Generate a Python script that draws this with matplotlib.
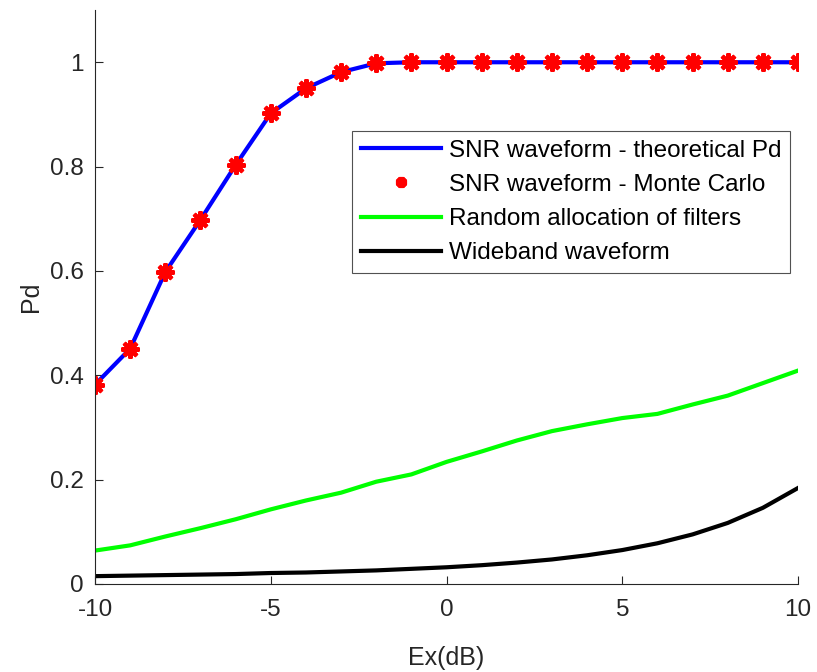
import matplotlib
matplotlib.use("Agg")
import matplotlib.pyplot as plt
import numpy as np

plt.rcParams['font.family'] = ['Liberation Sans', 'DejaVu Sans']
plt.rcParams['axes.unicode_minus'] = False

ex_db = list(range(-10, 11))
pd_theory = [0.382, 0.451, 0.598, 0.698, 0.803, 0.902, 0.950, 0.981, 0.998, 1.0, 1.0,
             1.0, 1.0, 1.0, 1.0, 1.0, 1.0, 1.0, 1.0, 1.0, 1.0]
pd_monte = [0.382, 0.451, 0.598, 0.698, 0.803, 0.902, 0.950, 0.981, 0.999, 1.0, 1.0,
            1.0, 1.0, 1.0, 1.0, 1.0, 1.0, 1.0, 1.0, 1.0, 1.0]
pd_random = [0.064, 0.074, 0.091, 0.107, 0.124, 0.143, 0.160, 0.175, 0.196, 0.210, 0.234,
             0.254, 0.275, 0.293, 0.306, 0.318, 0.326, 0.344, 0.361, 0.385, 0.409]
pd_wide = [0.015, 0.016, 0.017, 0.018, 0.019, 0.021, 0.022, 0.024, 0.026, 0.029, 0.032,
           0.036, 0.041, 0.047, 0.055, 0.065, 0.078, 0.095, 0.117, 0.146, 0.184]

fig = plt.figure(figsize=(8.17, 6.72), dpi=100)
ax = fig.add_axes([0.1163, 0.131, 0.8605, 0.854])

ax.plot(ex_db, pd_theory, color='#0000ff', lw=3, label='SNR waveform - theoretical Pd')
ax.plot(ex_db, pd_monte, linestyle='none', marker=(8, 2, 0), markersize=13,
        markeredgewidth=3.0, color='#ff0000', label='SNR waveform - Monte Carlo')
ax.plot(ex_db, pd_random, color='#00ff00', lw=3, label='Random allocation of filters')
ax.plot(ex_db, pd_wide, color='#000000', lw=3, label='Wideband waveform')

ax.set_xlim(-10, 10)
ax.set_ylim(0, 1.1)
ax.set_xticks([-10, -5, 0, 5, 10])
ax.set_yticks([0, 0.2, 0.4, 0.6, 0.8, 1])
ax.set_yticklabels(['0', '0.2', '0.4', '0.6', '0.8', '1'])
for s in ['top', 'right']:
    ax.spines[s].set_visible(False)
for s in ['left', 'bottom']:
    ax.spines[s].set_color('#262626')
    ax.spines[s].set_linewidth(0.8)
ax.tick_params(direction='in', length=6, width=0.8, colors='#262626', labelsize=17.5)
ax.tick_params(axis='x', pad=11)
ax.tick_params(axis='y', pad=8)
ax.set_xlabel('Ex(dB)', fontsize=18, color='#262626', labelpad=18)
ax.set_ylabel('Pd', fontsize=18, color='#262626', labelpad=5)

leg = ax.legend(loc='upper right', bbox_to_anchor=(0.989, 0.789), fontsize=17.5,
                frameon=True, fancybox=False, edgecolor='#262626', handlelength=3.3,
                borderaxespad=0, labelspacing=0.5, handletextpad=0.35, borderpad=0.35)
leg.get_frame().set_linewidth(0.8)
leg.legend_handles[1].set_markersize(8)

fig.savefig('out.png', dpi=100)
